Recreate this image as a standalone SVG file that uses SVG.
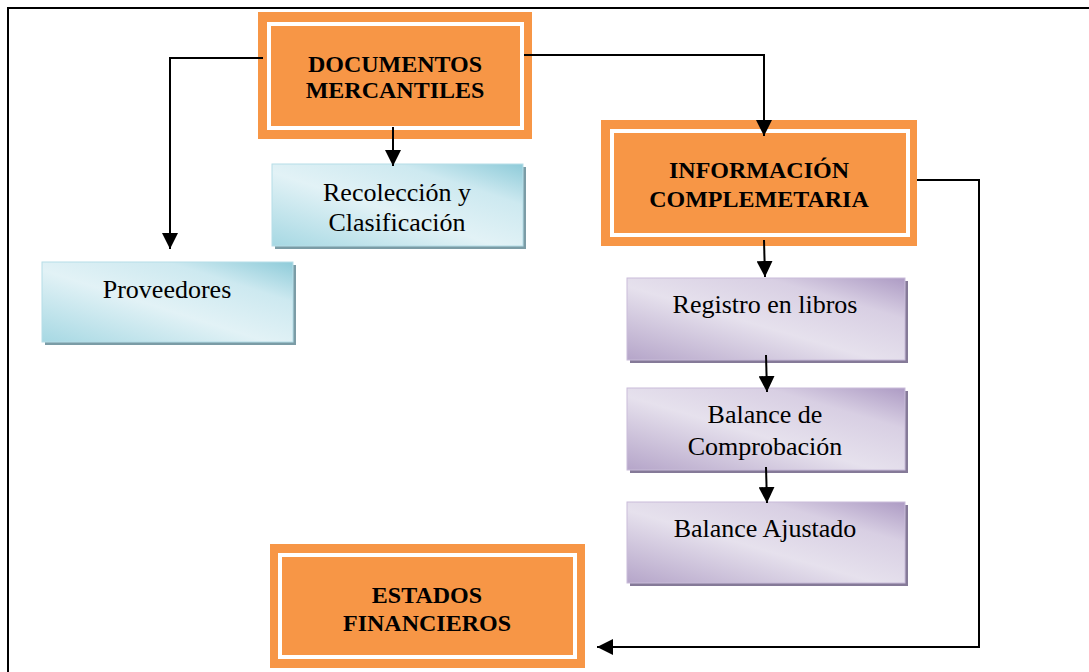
<svg xmlns="http://www.w3.org/2000/svg" width="1089" height="672" viewBox="0 0 1089 672">
<style>
.bold{font-family:"Liberation Serif","Times New Roman",serif;font-weight:bold;font-size:24px;fill:#000;text-anchor:middle}
.reg{font-family:"Liberation Serif","Times New Roman",serif;font-size:26px;fill:#000;text-anchor:middle}
.orange{fill:#f79646}
.inner{fill:none;stroke:#fff;stroke-width:4}
.conn{fill:none;stroke:#000;stroke-width:2}
.bshadow{fill:#7b9ca6}
.pshadow{fill:#857a98}
.blue{fill:url(#gBlue);stroke:#b6dde7;stroke-width:1}
.purple{fill:url(#gPurple);stroke:#c9bcd9;stroke-width:1}
</style>
<defs>
<linearGradient id="gBlue" x1="0" y1="1" x2="1" y2="0">
<stop offset="0" stop-color="#a6d8e3"/>
<stop offset="0.45" stop-color="#e2f2f6"/>
<stop offset="0.75" stop-color="#cde9f0"/>
<stop offset="1" stop-color="#8ecbd9"/>
</linearGradient>
<linearGradient id="gPurple" x1="0" y1="1" x2="1" y2="0">
<stop offset="0" stop-color="#b5a5c9"/>
<stop offset="0.45" stop-color="#e6e1ed"/>
<stop offset="0.75" stop-color="#d8cfe3"/>
<stop offset="1" stop-color="#ad9bc4"/>
</linearGradient>
<marker id="arr" viewBox="0 0 16 16" refX="16" refY="8" markerWidth="16" markerHeight="16" markerUnits="userSpaceOnUse" orient="auto">
<path d="M0,0 L16,8 L0,16 Z" fill="#000"/>
</marker>
</defs>
<rect width="1089" height="672" fill="#fff"/>
<path d="M8,672 V8 H1089" fill="none" stroke="#000" stroke-width="2"/>

<g id="documentos">
<rect class="orange" x="258" y="12" width="274" height="127"/>
<rect class="inner" x="269" y="24" width="253" height="104"/>
<text class="bold" x="395" y="72">DOCUMENTOS</text>
<text class="bold" x="395" y="98">MERCANTILES</text>
</g>

<g id="recoleccion">
<rect class="bshadow" x="275" y="167" width="251" height="82"/>
<rect class="blue" x="272" y="164" width="251" height="82"/>
<text class="reg" x="397" y="201">Recolección y</text>
<text class="reg" x="397" y="231">Clasificación</text>
</g>

<g id="proveedores">
<rect class="bshadow" x="45" y="265" width="251" height="80"/>
<rect class="blue" x="42" y="262" width="251" height="80"/>
<text class="reg" x="167" y="298">Proveedores</text>
</g>

<g id="informacion">
<rect class="orange" x="601" y="120" width="316" height="126"/>
<rect class="inner" x="612" y="131" width="296" height="104"/>
<text class="bold" x="759" y="178">INFORMACIÓN</text>
<text class="bold" x="759" y="207">COMPLEMETARIA</text>
</g>

<g id="registro">
<rect class="pshadow" x="630" y="281" width="278" height="82"/>
<rect class="purple" x="627" y="278" width="278" height="82"/>
<text class="reg" x="765" y="313">Registro en libros</text>
</g>

<g id="balance-comprobacion">
<rect class="pshadow" x="630" y="391" width="278" height="82"/>
<rect class="purple" x="627" y="388" width="278" height="82"/>
<text class="reg" x="765" y="423">Balance de</text>
<text class="reg" x="765" y="455">Comprobación</text>
</g>

<g id="balance-ajustado">
<rect class="pshadow" x="630" y="505" width="278" height="81"/>
<rect class="purple" x="627" y="502" width="278" height="81"/>
<text class="reg" x="765" y="537">Balance Ajustado</text>
</g>

<g id="estados">
<rect class="orange" x="270" y="544" width="315" height="124"/>
<rect class="inner" x="280" y="555" width="295" height="102"/>
<text class="bold" x="427" y="603">ESTADOS</text>
<text class="bold" x="427" y="631">FINANCIEROS</text>
</g>

<g id="connectors">
<polyline class="conn" points="263,58 170,58 170,249" marker-end="url(#arr)"/>
<polyline class="conn" points="524,55 764,55 764,136" marker-end="url(#arr)"/>
<line class="conn" x1="393" y1="127" x2="393" y2="166" marker-end="url(#arr)"/>
<line class="conn" x1="764" y1="240" x2="765" y2="277" marker-end="url(#arr)"/>
<line class="conn" x1="766" y1="355" x2="767" y2="392" marker-end="url(#arr)"/>
<line class="conn" x1="766" y1="467" x2="767" y2="503" marker-end="url(#arr)"/>
<polyline class="conn" points="917,180 979,180 979,647 597,647" marker-end="url(#arr)"/>
</g>
</svg>
